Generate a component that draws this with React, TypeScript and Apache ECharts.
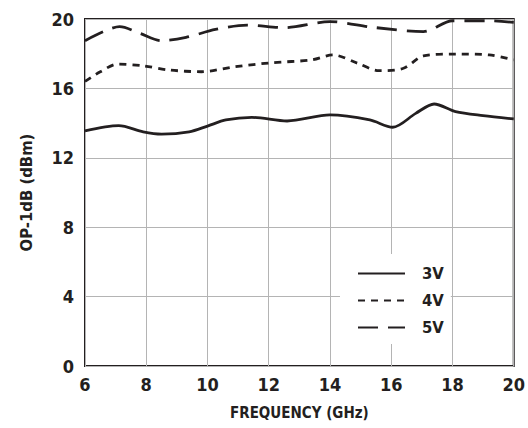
import React, { useEffect, useRef } from "react";
import * as echarts from "echarts";

const freq3V = [6, 7.1, 7.9, 8.5, 9.4, 10, 10.6, 11.45, 12.6, 14, 15.3, 16.05, 16.8, 17.4, 18.1, 19, 20];
const val3V = [13.55, 13.85, 13.5, 13.37, 13.5, 13.83, 14.18, 14.33, 14.12, 14.47, 14.18, 13.76, 14.56, 15.1, 14.66, 14.43, 14.24];

const freq4V = [6, 6.5, 7.07, 7.9, 8.75, 9.8, 10.9, 12.1, 13.4, 14.1, 14.9, 15.6, 16.4, 17.05, 18.1, 19.2, 20];
const val4V = [16.4, 16.96, 17.4, 17.3, 17.06, 16.96, 17.25, 17.48, 17.64, 17.93, 17.45, 17.02, 17.16, 17.87, 17.98, 17.93, 17.64];

const freq5V = [6, 6.6, 7.13, 7.8, 8.5, 9.3, 10.26, 11.3, 12.5, 14, 15.4, 17.05, 18, 19.2, 20];
const val5V = [18.75, 19.27, 19.56, 19.17, 18.75, 18.94, 19.4, 19.65, 19.5, 19.85, 19.52, 19.27, 19.9, 19.9, 19.8];

const seriesNames = ["3V", "4V", "5V"];
const xAxisTitle = "FREQUENCY (GHz)";
const yAxisTitle = "OP-1dB (dBm)";

const INK = "#231f20";
const FONT = "'DejaVu Sans Condensed', 'DejaVu Sans', sans-serif";

function zip(xs: number[], ys: number[]) {
  return xs.map((x, i) => [x, ys[i]]);
}

export default function App() {
  const ref = useRef<HTMLDivElement>(null);
  useEffect(() => {
    if (!ref.current) return;
    const chart = echarts.init(ref.current, null, { renderer: "svg" });
    const lineSeries = (name: string, data: number[][], dash: any) => ({
      name,
      type: "line",
      data,
      symbol: "none",
      smooth: 0.3,
      lineStyle: { color: INK, width: 2.8, type: dash, cap: "butt" },
      itemStyle: { color: INK },
    });
    chart.setOption({
      animation: false,
      backgroundColor: "#fff",
      grid: {
        left: 85,
        right: 9,
        top: 19,
        bottom: 62,
        show: true,
        borderColor: INK,
        borderWidth: 2,
        backgroundColor: "transparent",
      },
      legend: {
        orient: "vertical",
        left: 340,
        top: 254,
        backgroundColor: "#fff",
        padding: [11, 7, 8, 17],
        itemWidth: 47,
        itemHeight: 14,
        itemGap: 10,
        data: seriesNames,
        itemStyle: { opacity: 0 },
        textStyle: {
          fontFamily: FONT,
          fontWeight: "bold",
          fontSize: 16.5,
          lineHeight: 14,
          color: INK,
          padding: [0, 0, 0, 12],
        },
      },
      xAxis: {
        type: "value",
        min: 6,
        max: 20,
        interval: 2,
        name: xAxisTitle,
        nameLocation: "middle",
        nameGap: 39,
        nameTextStyle: { fontFamily: FONT, fontWeight: "bold", fontSize: 15, color: INK },
        axisLine: { show: false },
        axisTick: { show: false },
        axisLabel: { margin: 9, fontFamily: FONT, fontWeight: "bold", fontSize: 18, color: INK },
        splitLine: { show: true, lineStyle: { color: "#b4b4b4", width: 1 } },
      },
      yAxis: {
        type: "value",
        min: 0,
        max: 20,
        interval: 4,
        name: yAxisTitle,
        nameLocation: "middle",
        nameRotate: 90,
        nameGap: 50,
        nameTextStyle: { fontFamily: FONT, fontWeight: "bold", fontSize: 16.5, color: INK },
        axisLine: { show: false },
        axisTick: { show: false },
        axisLabel: { margin: 11, fontFamily: FONT, fontWeight: "bold", fontSize: 18, color: INK },
        splitLine: { show: true, lineStyle: { color: "#b4b4b4", width: 1 } },
      },
      series: [
        lineSeries(seriesNames[0], zip(freq3V, val3V), "solid"),
        lineSeries(seriesNames[1], zip(freq4V, val4V), [7, 6]),
        lineSeries(seriesNames[2], zip(freq5V, val5V), [20, 10]),
      ],
    });
    return () => chart.dispose();
  }, []);
  return (
    <div
      ref={ref}
      style={{ position: "absolute", left: 0, top: 0, width: 528, height: 428 }}
    />
  );
}
